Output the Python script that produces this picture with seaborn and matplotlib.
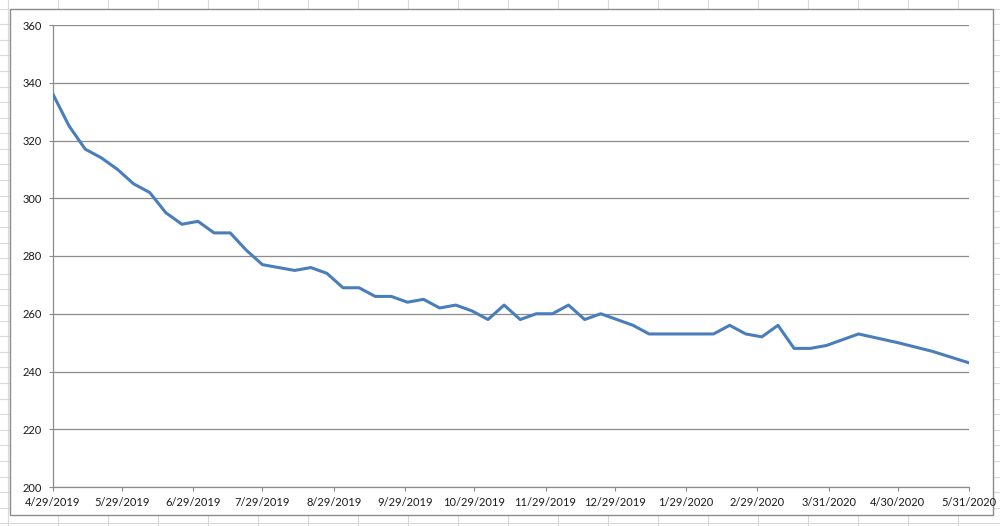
#!/usr/bin/env python3

import numpy as np
import pandas as pd
import seaborn as sns
import matplotlib.pyplot as plt
import matplotlib.dates as mdates
from matplotlib.patches import Rectangle
from matplotlib.lines import Line2D

# ---- Data ----
dates = [
    "2019-04-29", "2019-05-06", "2019-05-13", "2019-05-20", "2019-05-27",
    "2019-06-03", "2019-06-10", "2019-06-17", "2019-06-24", "2019-07-01",
    "2019-07-08", "2019-07-15", "2019-07-22", "2019-07-29", "2019-08-05",
    "2019-08-12", "2019-08-19", "2019-08-26", "2019-09-02", "2019-09-09",
    "2019-09-16", "2019-09-23", "2019-09-30", "2019-10-07", "2019-10-14",
    "2019-10-21", "2019-10-28", "2019-11-04", "2019-11-11", "2019-11-18",
    "2019-11-25", "2019-12-02", "2019-12-09", "2019-12-16", "2019-12-23",
    "2019-12-30", "2020-01-06", "2020-01-13", "2020-01-20", "2020-01-27",
    "2020-02-03", "2020-02-10", "2020-02-17", "2020-02-24", "2020-03-02",
    "2020-03-09", "2020-03-16", "2020-03-23", "2020-03-30", "2020-04-13",
    "2020-04-30", "2020-05-15", "2020-05-31",
]
values = [
    336, 325, 317, 314, 310,
    305, 302, 295, 291, 292,
    288, 288, 282, 277, 276,
    275, 276, 274, 269, 269,
    266, 266, 264, 265, 262,
    263, 261, 258, 263, 258,
    260, 260, 263, 258, 260,
    258, 256, 253, 253, 253,
    253, 253, 256, 253, 252,
    256, 248, 248, 249, 253,
    250, 247, 243,
]
tick_dates = [
    "2019-04-29", "2019-05-29", "2019-06-29", "2019-07-29", "2019-08-29",
    "2019-09-29", "2019-10-29", "2019-11-29", "2019-12-29", "2020-01-29",
    "2020-02-29", "2020-03-31", "2020-04-30", "2020-05-31",
]
tick_labels = [
    "4/29/2019", "5/29/2019", "6/29/2019", "7/29/2019", "8/29/2019",
    "9/29/2019", "10/29/2019", "11/29/2019", "12/29/2019", "1/29/2020",
    "2/29/2020", "3/31/2020", "4/30/2020", "5/31/2020",
]
y_ticks = [200, 220, 240, 260, 280, 300, 320, 340, 360]


def main():
    df = pd.DataFrame({"date": pd.to_datetime(dates), "value": values})

    sns.set_theme(style="white")
    plt.rcParams["font.family"] = ["Lato", "DejaVu Sans"]

    W, H = 1000, 526
    fig = plt.figure(figsize=(10, 5.26), dpi=100)
    fig.patch.set_facecolor("white")

    # ---- spreadsheet cells behind the chart ----
    cell_col = "#d9d9d9"
    for x in np.arange(8.3, W, 50):
        fig.add_artist(Line2D([x / W, x / W], [0, 1], color=cell_col, lw=0.8,
                              transform=fig.transFigure, zorder=-3))
    for y in np.arange(8.5, H, 15.6):
        fig.add_artist(Line2D([0, 1], [1 - y / H, 1 - y / H], color=cell_col,
                              lw=0.8, transform=fig.transFigure, zorder=-3))

    # ---- chart frame ----
    fx0, fy0, fx1, fy1 = 10, 9, 993, 515
    frame = Rectangle((fx0 / W, 1 - fy1 / H), (fx1 - fx0) / W, (fy1 - fy0) / H,
                      transform=fig.transFigure, facecolor="white",
                      edgecolor="#8c8c8c", lw=1.0, zorder=-2)
    fig.add_artist(frame)

    # ---- plot area ----
    left, right, top, bottom = 53, 969, 25, 487
    ax = fig.add_axes([left / W, 1 - bottom / H, (right - left) / W, (bottom - top) / H])
    ax.set_facecolor("white")

    sns.lineplot(x="date", y="value", data=df, ax=ax, color="#4a7ebb",
                 linewidth=2.2, zorder=3)

    ax.set_ylim(200, 360)
    ax.set_yticks(y_ticks)
    ax.set_yticklabels([str(v) for v in y_ticks])
    ax.set_xlim(pd.Timestamp(dates[0]), pd.Timestamp(dates[-1]))
    ax.set_xticks(mdates.date2num(pd.to_datetime(tick_dates)))
    ax.set_xticklabels(tick_labels)

    ax.grid(axis="y", color="#8c8c8c", lw=0.9)
    ax.grid(axis="x", visible=False)
    ax.set_axisbelow(True)
    for side in ["top", "right"]:
        ax.spines[side].set_visible(False)
    for side in ["left", "bottom"]:
        ax.spines[side].set_color("#8c8c8c")
        ax.spines[side].set_linewidth(0.9)

    ax.tick_params(axis="y", direction="out", length=3, width=0.8,
                   color="#8c8c8c", pad=5, labelsize=8, labelcolor="#1a1a1a",
                   left=True)
    ax.tick_params(axis="x", direction="out", length=3, width=0.8,
                   color="#8c8c8c", pad=4, labelsize=8, labelcolor="#1a1a1a",
                   bottom=True)
    ax.set_xlabel("")
    ax.set_ylabel("")

    fig.savefig("out.png", dpi=100)
    plt.close(fig)


if __name__ == "__main__":
    main()
